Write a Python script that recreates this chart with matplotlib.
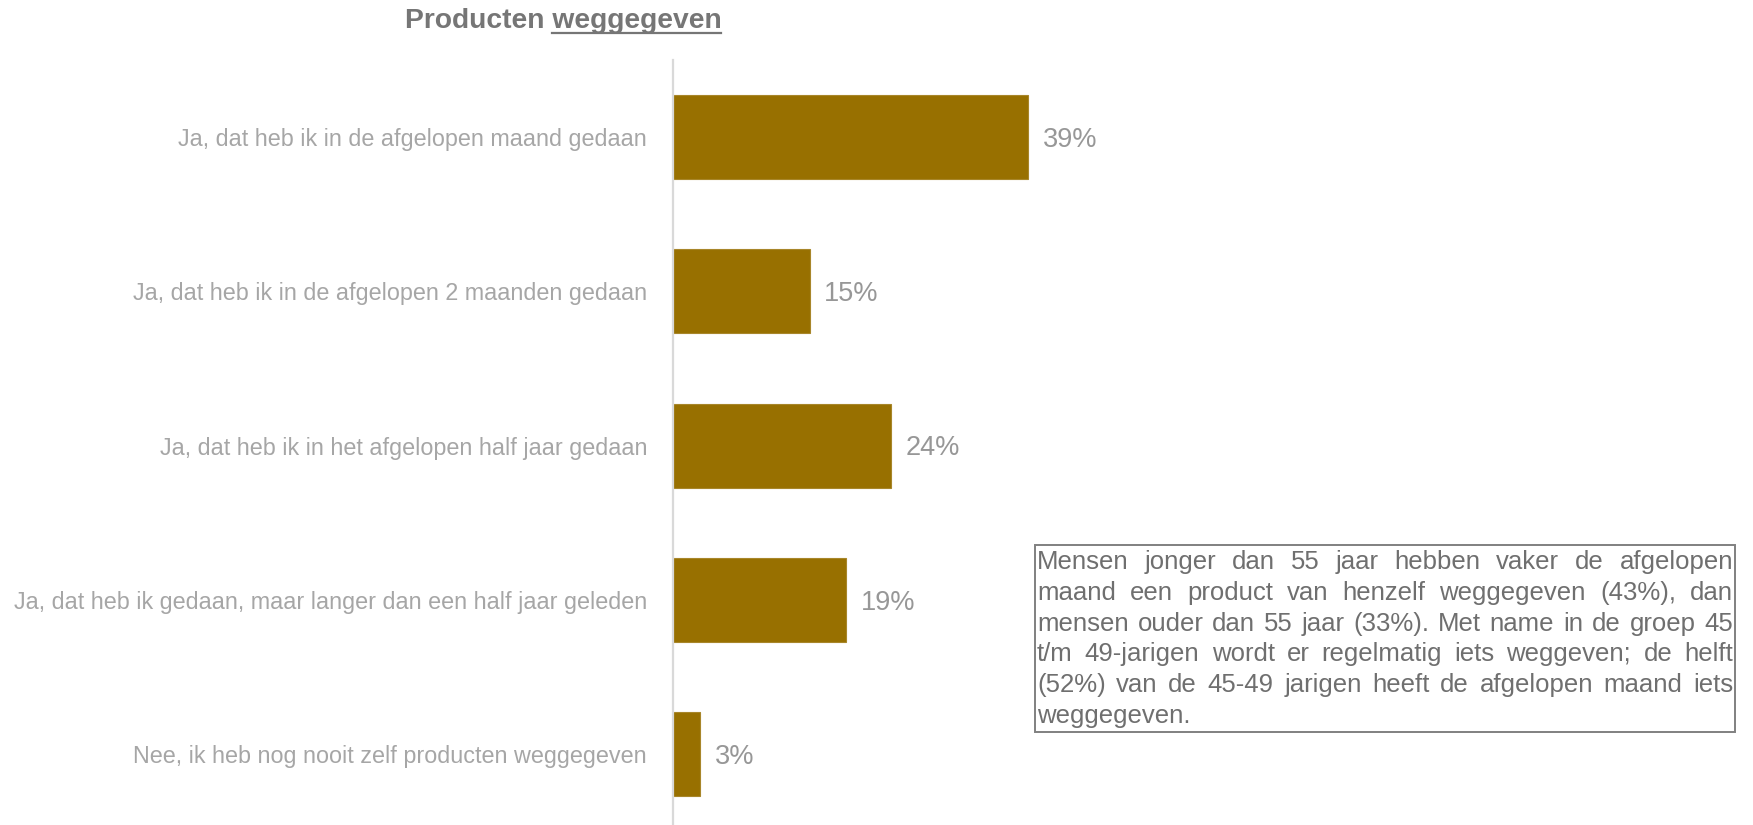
import matplotlib
matplotlib.use("Agg")
import matplotlib.pyplot as plt
from matplotlib.lines import Line2D
from matplotlib.patches import Rectangle
from matplotlib.transforms import offset_copy

plt.rcParams['font.family'] = ['Liberation Sans', 'DejaVu Sans']

categories = [
    "Ja, dat heb ik in de afgelopen maand gedaan",
    "Ja, dat heb ik in de afgelopen 2 maanden gedaan",
    "Ja, dat heb ik in het afgelopen half jaar gedaan",
    "Ja, dat heb ik gedaan, maar langer dan een half jaar geleden",
    "Nee, ik heb nog nooit zelf producten weggegeven",
]
values = [39, 15, 24, 19, 3]

title_main = "Producten "
title_under = "weggegeven"

note_lines = [
    "Mensen jonger dan 55 jaar hebben vaker de afgelopen",
    "maand een product van henzelf weggegeven (43%), dan",
    "mensen ouder dan 55 jaar (33%). Met name in de groep 45",
    "t/m 49-jarigen wordt er regelmatig iets weggeven; de helft",
    "(52%) van de 45-49 jarigen heeft de afgelopen maand iets",
    "weggegeven.",
]

W, H = 1753, 825
fig = plt.figure(figsize=(W / 100, H / 100), dpi=100)

# bar axes: zero line at x=673px, 9.1 px per percent
ax_left = 673
ax_top = 60
step = 154.25
ax_h = 5 * step
ax = fig.add_axes([ax_left / W, (H - ax_top - ax_h) / H, 1 - ax_left / W, ax_h / H])
ax.set_xlim(0, (W - ax_left) / 9.1)
ax.set_ylim(len(values) - 0.5, -0.5)

ypos = list(range(len(values)))
ax.barh(ypos, values, height=0.545, color='#987000', edgecolor='#a8862a', linewidth=0.8)
# value labels: baseline dropped by half the cap height so the digits sit centred
lbl_tr = offset_copy(ax.transData, fig=fig, x=0, y=-7.0, units='points')
for y, v in zip(ypos, values):
    ax.text(v + 1.6, y, f"{v}%", va='baseline', ha='left', fontsize=19.5, color='#979797',
            transform=lbl_tr)

for s in ['top', 'right', 'bottom']:
    ax.spines[s].set_visible(False)
ax.spines['left'].set_color('#d9d9d9')
ax.spines['left'].set_linewidth(1.6)
ax.set_xticks([])
ax.set_yticks(ypos)
ax.set_yticklabels(categories, fontsize=16.8, color='#a6a6a6', va='center_baseline')
ax.tick_params(axis='y', length=0, pad=18.7)


def fy(py):
    return (H - py) / H


renderer = fig.canvas.get_renderer()

# title with underlined second word
title_cx, title_cy = 563, 21
full = fig.text(title_cx / W, fy(title_cy), title_main + title_under, ha='center', va='center',
                fontsize=20.3, fontweight='bold', color='#767676')
bb_full = full.get_window_extent(renderer)
probe = fig.text(0, 0, title_under, fontsize=20.3, fontweight='bold')
w_under = probe.get_window_extent(renderer).width
probe.remove()
x1 = bb_full.x1
x0 = x1 - w_under
fig.add_artist(Line2D([x0 / W, x1 / W], [fy(33), fy(33)], color='#767676', linewidth=1.6))

# justified note box
box_x0, box_x1 = 1035, 1735
box_y0, box_y1 = 545, 732
fig.add_artist(Rectangle((box_x0 / W, fy(box_y1)), (box_x1 - box_x0) / W, (box_y1 - box_y0) / H,
                         fill=False, edgecolor='#808080', linewidth=1.4))
tx0, tx1 = box_x0 + 2, box_x1 - 2
line_h = 30.8
first_base = 569
note_size = 18.5
for i, line in enumerate(note_lines):
    base = first_base + i * line_h
    words = line.split(" ")
    texts = [fig.text(0, fy(base), w, ha='left', va='baseline', fontsize=note_size, color='#6f6f6f')
             for w in words]
    widths = [t.get_window_extent(renderer).width for t in texts]
    if i == len(note_lines) - 1 or len(words) == 1:
        gap = 0.278 * note_size * 100 / 72
    else:
        gap = (tx1 - tx0 - sum(widths)) / (len(words) - 1)
    x = tx0
    for t, w in zip(texts, widths):
        t.set_x(x / W)
        x += w + gap

fig.savefig("out.png", dpi=100)
